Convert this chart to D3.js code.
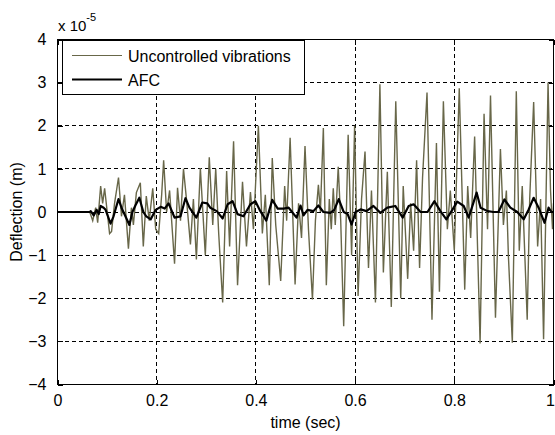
<!DOCTYPE html>
<html>
<head>
<meta charset="utf-8">
<script src="https://cdn.jsdelivr.net/npm/d3@7"></script>
<style>
  body { margin: 0; background: #fff; }
  svg { display: block; }
  text { font-family: "Liberation Sans", Arial, sans-serif; fill: #000; }
</style>
</head>
<body>
<svg id="chart" width="555" height="435"></svg>
<script>
// values are in units of 1e-5 m, as on the axis
const uncTime = [0, 0.065, 0.071, 0.077, 0.081, 0.087, 0.091, 0.095, 0.105, 0.109, 0.115, 0.123, 0.129, 0.135, 0.143,
  0.149, 0.153, 0.159, 0.167, 0.173, 0.179, 0.185, 0.192, 0.198, 0.204, 0.210, 0.214, 0.220, 0.226, 0.236,
  0.242, 0.248, 0.254, 0.260, 0.268, 0.274, 0.280, 0.288, 0.298, 0.306, 0.313, 0.319, 0.325, 0.333, 0.341,
  0.347, 0.355, 0.363, 0.373, 0.381, 0.389, 0.395, 0.405, 0.413, 0.419, 0.427, 0.433, 0.440, 0.450, 0.458,
  0.462, 0.469, 0.479, 0.486, 0.492, 0.499, 0.506, 0.514, 0.520, 0.526, 0.530, 0.536, 0.542, 0.548, 0.552,
  0.556, 0.560, 0.566, 0.571, 0.577, 0.586, 0.593, 0.599, 0.606, 0.613, 0.620, 0.627, 0.633, 0.641, 0.650,
  0.657, 0.665, 0.673, 0.682, 0.692, 0.697, 0.706, 0.712, 0.718, 0.724, 0.730, 0.736, 0.745, 0.755, 0.764,
  0.770, 0.778, 0.786, 0.792, 0.800, 0.810, 0.821, 0.827, 0.833, 0.841, 0.852, 0.860, 0.867, 0.873, 0.883,
  0.893, 0.899, 0.905, 0.909, 0.917, 0.925, 0.931, 0.937, 0.947, 0.952, 0.960, 0.968, 0.974, 0.980, 0.989,
  0.994, 0.998, 1.0];
const uncDefl = [0, 0, -0.2, 0.1, -0.25, 0.6, 0.2, 0.55, -0.5, -0.45, 0.2, 0.8, -0.1, 0.4, -0.85,
  0.1, -0.3, 0.45, 0.68, -0.8, 0.37, -0.2, 0.55, -0.4, -0.5, 0.4, 1.2, 0.0, 0.5, -1.2,
  0.56, -0.2, 1.0, 0.3, -0.75, 0.3, -1.1, 1.02, -1.0, 1.27, -0.3, 1.0, -0.5, -2.1, 0.95,
  -0.8, 1.64, -1.7, 0.7, -0.8, 0.46, -0.4, 2.0, -0.5, 0.4, -1.7, 1.25, -0.3, -1.6, 0.6,
  -0.2, 1.72, -1.68, 0.2, -0.6, 1.53, -0.4, -2.03, -0.2, 0.63, 0.0, 1.95, -1.7, 0.3, -0.4,
  0.55, -0.3, 1.05, -0.2, -2.65, 1.79, -1.0, 2.0, -1.95, 0.3, 1.4, -1.3, 0.5, -2.1, 2.96,
  -1.4, 0.93, -2.2, 2.57, -2.0, 0.6, -1.55, 0.2, -0.9, 1.2, -1.3, 0.8, 2.77, -2.5, 1.6,
  -1.85, 2.57, -0.4, 0.5, -0.9, 2.87, -1.8, 0.6, -0.6, 1.75, -3.05, 2.28, -0.4, 2.7, -2.45,
  1.46, -0.3, 0.5, -1.0, -3.03, 2.8, -0.9, 0.6, -2.5, 0.3, 2.55, -0.8, 0.3, -2.95, 3.0,
  0.5, -0.4, 0.2];

const afcTime = [0, 0.065, 0.067, 0.073, 0.079, 0.083, 0.087, 0.093, 0.097, 0.107, 0.113, 0.123, 0.129, 0.133,
  0.145, 0.151, 0.157, 0.165, 0.173, 0.179, 0.188, 0.198, 0.208, 0.216, 0.224, 0.236, 0.248, 0.258, 0.266,
  0.280, 0.292, 0.302, 0.308, 0.321, 0.333, 0.343, 0.353, 0.363, 0.375, 0.389, 0.399, 0.409, 0.421, 0.433,
  0.444, 0.456, 0.466, 0.482, 0.490, 0.496, 0.504, 0.516, 0.526, 0.536, 0.550, 0.558, 0.567, 0.577, 0.585,
  0.593, 0.601, 0.611, 0.623, 0.637, 0.651, 0.665, 0.681, 0.696, 0.708, 0.718, 0.732, 0.746, 0.760, 0.772,
  0.784, 0.796, 0.806, 0.819, 0.829, 0.845, 0.853, 0.867, 0.879, 0.889, 0.901, 0.913, 0.927, 0.940, 0.950,
  0.960, 0.970, 0.982, 0.990, 0.996, 1.0];
const afcDefl = [0, 0, 0.02, -0.08, 0.05, -0.05, 0.14, 0.1, 0.05, -0.27, -0.1, 0.3, 0.1, 0.0,
  -0.3, 0.0, 0.15, 0.33, 0.0, -0.1, -0.17, 0.05, 0.12, 0.08, 0.2, -0.13, -0.1, 0.32, 0.1,
  -0.13, 0.22, 0.2, 0.1, 0.02, -0.15, 0.18, 0.25, -0.05, -0.1, 0.18, 0.25, 0.02, -0.2, 0.28,
  0.08, 0.08, 0.1, -0.13, 0.15, -0.08, 0.05, 0.02, 0.15, 0.0, -0.02, 0.05, 0.3, 0.0, -0.05,
  -0.29, 0.0, 0.06, 0.02, 0.14, -0.02, 0.1, 0.14, -0.13, 0.14, 0.18, 0.0, 0.0, 0.25, 0.02,
  -0.17, 0.05, 0.24, 0.14, -0.13, 0.45, 0.1, 0.02, 0.0, 0.0, 0.29, 0.1, 0.0, -0.17, 0.06,
  0.33, 0.1, -0.25, 0.1, 0.0, 0.0];

const seriesNames = ["Uncontrolled vibrations", "AFC"];
const seriesColors = ["#686749", "#000000"];
const xTicks = [0, 0.2, 0.4, 0.6, 0.8, 1];
const yTicks = [-4, -3, -2, -1, 0, 1, 2, 3, 4];

const svg = d3.select("#chart");
const pLeft = 57.5, pRight = 553.5, pTop = 39.5, pBottom = 384.5;

const x = d3.scaleLinear().domain([0, 1]).range([pLeft, pRight]);
const y = d3.scaleLinear().domain([-4, 4]).range([pBottom, pTop]);

// grid
const grid = svg.append("g").attr("stroke", "#000").attr("stroke-width", 1)
  .attr("stroke-dasharray", "4,3").attr("shape-rendering", "crispEdges");
grid.selectAll(".gx").data(xTicks.slice(1, -1)).enter().append("line")
  .attr("x1", d => x(d)).attr("x2", d => x(d)).attr("y1", pTop).attr("y2", pBottom);
grid.selectAll(".gy").data(yTicks.slice(1, -1)).enter().append("line")
  .attr("x1", pLeft).attr("x2", pRight).attr("y1", d => y(d)).attr("y2", d => y(d));

svg.append("clipPath").attr("id", "clip").append("rect")
  .attr("x", pLeft).attr("y", pTop).attr("width", pRight - pLeft).attr("height", pBottom - pTop);

const line = d3.line().x(d => x(d[0])).y(d => y(d[1]));
const plot = svg.append("g").attr("clip-path", "url(#clip)");

plot.append("path")
  .datum(d3.zip(uncTime, uncDefl))
  .attr("d", line)
  .attr("fill", "none")
  .attr("stroke", seriesColors[0])
  .attr("stroke-width", 1.4);

plot.append("path")
  .datum(d3.zip(afcTime, afcDefl))
  .attr("d", line)
  .attr("fill", "none")
  .attr("stroke", seriesColors[1])
  .attr("stroke-width", 2.2)
  .attr("stroke-linejoin", "round");

// axes, ticks inward (matlab style)
const axB = svg.append("g").attr("transform", `translate(0,${pBottom})`)
  .call(d3.axisBottom(x).tickValues(xTicks).tickSizeInner(-5).tickSizeOuter(0).tickPadding(10)
    .tickFormat(d => d3.format("")(d)));
const axT = svg.append("g").attr("transform", `translate(0,${pTop})`)
  .call(d3.axisTop(x).tickValues(xTicks).tickSizeInner(-5).tickSizeOuter(0).tickFormat(""));
const axL = svg.append("g").attr("transform", `translate(${pLeft},0)`)
  .call(d3.axisLeft(y).tickValues(yTicks).tickSizeInner(-5).tickSizeOuter(0).tickPadding(11));
const axR = svg.append("g").attr("transform", `translate(${pRight},0)`)
  .call(d3.axisRight(y).tickValues(yTicks).tickSizeInner(-5).tickSizeOuter(0).tickFormat(""));

[axB, axT, axL, axR].forEach(a => {
  a.select(".domain").remove();
  a.selectAll("line").attr("shape-rendering", "crispEdges");
  a.selectAll("text").style("font-size", "16px").style("font-family", "Liberation Sans, Arial, sans-serif");
});
// last x label sits against the figure edge
axB.selectAll(".tick text").filter(d => d === 1).attr("text-anchor", "end").attr("dx", 1);

svg.append("rect").attr("x", pLeft).attr("y", pTop).attr("width", pRight - pLeft).attr("height", pBottom - pTop)
  .attr("fill", "none").attr("stroke", "#000").attr("shape-rendering", "crispEdges");

// exponent label
const ex = svg.append("text").attr("x", 58).attr("y", 31).style("font-size", "15px");
ex.append("tspan").text("x 10");
ex.append("tspan").attr("dy", -10).style("font-size", "11px").text("-5");

// axis titles
svg.append("text").attr("x", x(0.5)).attr("y", 428).attr("text-anchor", "middle")
  .style("font-size", "16px").text("time (sec)");
svg.append("text").attr("transform", `translate(22,${y(0)}) rotate(-90)`).attr("text-anchor", "middle")
  .style("font-size", "16px").text("Deflection (m)");

// legend
const lg = svg.append("g");
lg.append("rect").attr("x", 62.5).attr("y", 40.5).attr("width", 242).attr("height", 54)
  .attr("fill", "#fff").attr("stroke", "#000").attr("shape-rendering", "crispEdges");
seriesNames.forEach((name, i) => {
  const ly = 55.5 + i * 24;
  lg.append("line").attr("x1", 72).attr("x2", 122).attr("y1", ly).attr("y2", ly)
    .attr("stroke", seriesColors[i]).attr("stroke-width", i === 0 ? 1.2 : 2.2);
  lg.append("text").attr("x", 128).attr("y", ly + 6).style("font-size", "16px").text(name);
});
</script>
</body>
</html>
